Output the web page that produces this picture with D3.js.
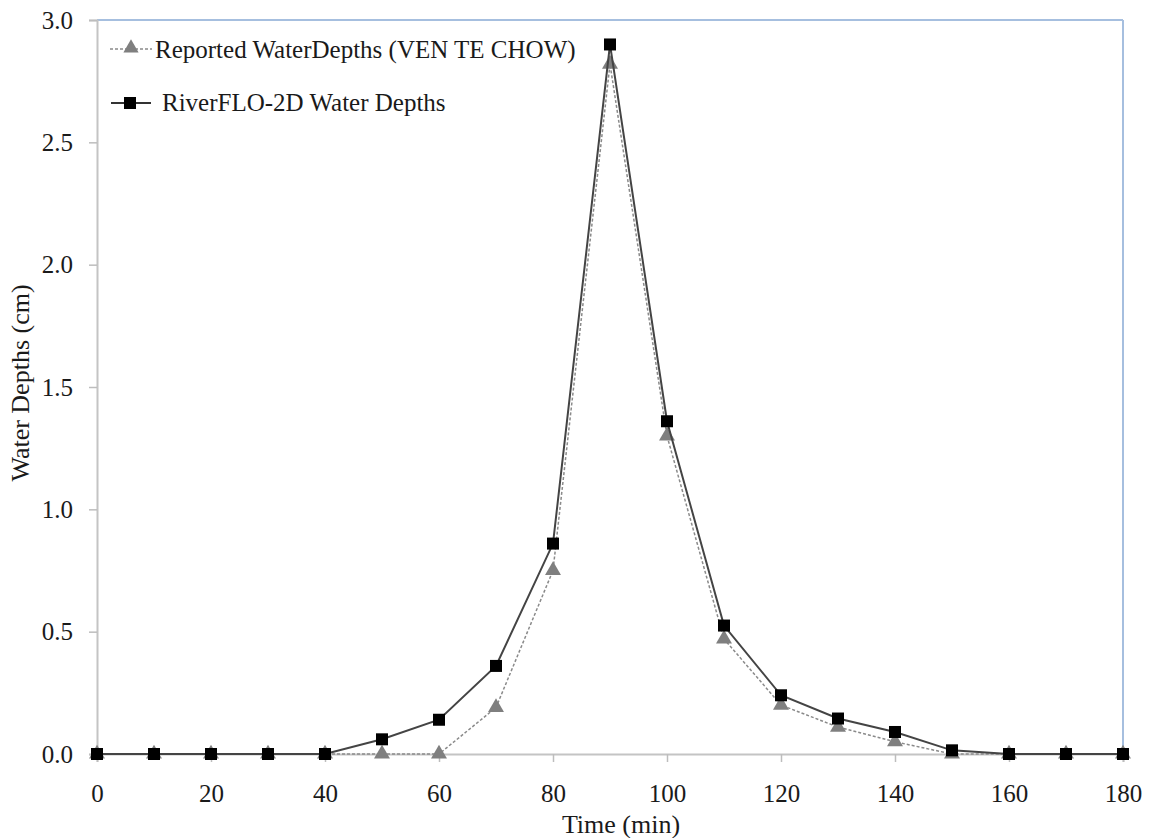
<!DOCTYPE html>
<html>
<head>
<meta charset="utf-8">
<script src="https://cdn.jsdelivr.net/npm/d3@7"></script>
<style>
  body { margin: 0; background: #fff; }
</style>
</head>
<body>
<svg id="chart" width="1155" height="838"></svg>
<script>
const times = [0, 10, 20, 30, 40, 50, 60, 70, 80, 90, 100, 110, 120, 130, 140, 150, 160, 170, 180];
const reportedDepths = [0, 0, 0, 0, 0, 0, 0, 0.19, 0.75, 2.82, 1.30, 0.47, 0.20, 0.11, 0.05, 0, 0, 0, 0];
const riverfloDepths = [0, 0, 0, 0, 0, 0.06, 0.14, 0.36, 0.86, 2.90, 1.36, 0.525, 0.24, 0.145, 0.09, 0.015, 0, 0, 0];
const xTicks = [0, 20, 40, 60, 80, 100, 120, 140, 160, 180];
const yTicks = [0, 0.5, 1.0, 1.5, 2.0, 2.5, 3.0];
const seriesNames = ['Reported WaterDepths (VEN TE CHOW)', 'RiverFLO-2D Water Depths'];

const serif = '"Liberation Serif", serif';

const svg = d3.select('#chart');
const margin = { top: 20, right: 32, bottom: 84, left: 97 };
const width = 1155 - margin.left - margin.right;
const height = 838 - margin.top - margin.bottom;

const x = d3.scaleLinear().domain([0, 180]).range([0, width]);
const y = d3.scaleLinear().domain([0, 3]).range([height, 0]);

const g = svg.append('g').attr('transform', `translate(${margin.left},${margin.top})`);

// frame: blue top/right, gray left/bottom
g.append('line').attr('x1', 0).attr('x2', width).attr('y1', 0).attr('y2', 0)
  .attr('stroke', '#a6bfdf').attr('stroke-width', 2);
g.append('line').attr('x1', width).attr('x2', width).attr('y1', 0).attr('y2', height)
  .attr('stroke', '#a6bfdf').attr('stroke-width', 2);

const xAxis = g.append('g').attr('transform', `translate(0,${height})`)
  .call(d3.axisBottom(x).tickValues(xTicks).tickSize(8).tickPadding(22).tickFormat(d3.format('d')));
const yAxis = g.append('g')
  .call(d3.axisLeft(y).tickValues(yTicks).tickSize(8).tickPadding(16).tickFormat(d3.format('.1f')));

[xAxis, yAxis].forEach(a => {
  a.attr('font-family', null).attr('font-size', null);
  a.select('.domain').attr('stroke', '#c4c4c4').attr('stroke-width', 2);
  a.selectAll('.tick line').attr('stroke', '#bdbdbd').attr('stroke-width', 1.5);
  a.selectAll('.tick text').style('font-size', '25px');
});
yAxis.selectAll('.tick text').attr('dy', '0.32em');

const reported = times.map((t, i) => [t, reportedDepths[i]]);
const riverflo = times.map((t, i) => [t, riverfloDepths[i]]);
const line = d3.line().x(d => x(d[0])).y(d => y(d[1]));

g.append('path').datum(reported).attr('d', line)
  .attr('fill', 'none').attr('stroke', '#8a8a8a').attr('stroke-width', 1.5).attr('stroke-dasharray', '3,2');
g.selectAll('.tri').data(reported).enter().append('path')
  .attr('class', 'tri')
  .attr('transform', d => `translate(${x(d[0])},${y(d[1])})`)
  .attr('d', d3.symbol().type(d3.symbolTriangle).size(110))
  .attr('fill', '#7f7f7f');

g.append('path').datum(riverflo).attr('d', line)
  .attr('fill', 'none').attr('stroke', '#444').attr('stroke-width', 2);
g.selectAll('.sq').data(riverflo).enter().append('rect')
  .attr('class', 'sq')
  .attr('x', d => x(d[0]) - 6).attr('y', d => y(d[1]) - 6)
  .attr('width', 12).attr('height', 12)
  .attr('fill', '#000');

// legend
const leg = svg.append('g');
leg.append('line').attr('x1', 110).attr('x2', 152).attr('y1', 49).attr('y2', 49)
  .attr('stroke', '#8a8a8a').attr('stroke-width', 1.5).attr('stroke-dasharray', '3,2');
leg.append('path').attr('transform', 'translate(131,48)')
  .attr('d', d3.symbol().type(d3.symbolTriangle).size(100)).attr('fill', '#7f7f7f');
leg.append('text').attr('x', 155).attr('y', 58).style('font-size', '25px').text(seriesNames[0]);

leg.append('line').attr('x1', 111).attr('x2', 151).attr('y1', 103).attr('y2', 103)
  .attr('stroke', '#333').attr('stroke-width', 2);
leg.append('rect').attr('x', 124).attr('y', 97).attr('width', 12).attr('height', 12).attr('fill', '#000');
leg.append('text').attr('x', 162).attr('y', 111).style('font-size', '25px').text(seriesNames[1]);

// axis titles
svg.append('text').attr('x', 621).attr('y', 833).attr('text-anchor', 'middle')
  .style('font-size', '26px').text('Time (min)');
svg.append('text').attr('transform', 'translate(29,383) rotate(-90)').attr('text-anchor', 'middle')
  .style('font-size', '26px').text('Water Depths (cm)');

svg.selectAll('text').style('font-family', serif).attr('fill', '#1a1a1a');
</script>
</body>
</html>
